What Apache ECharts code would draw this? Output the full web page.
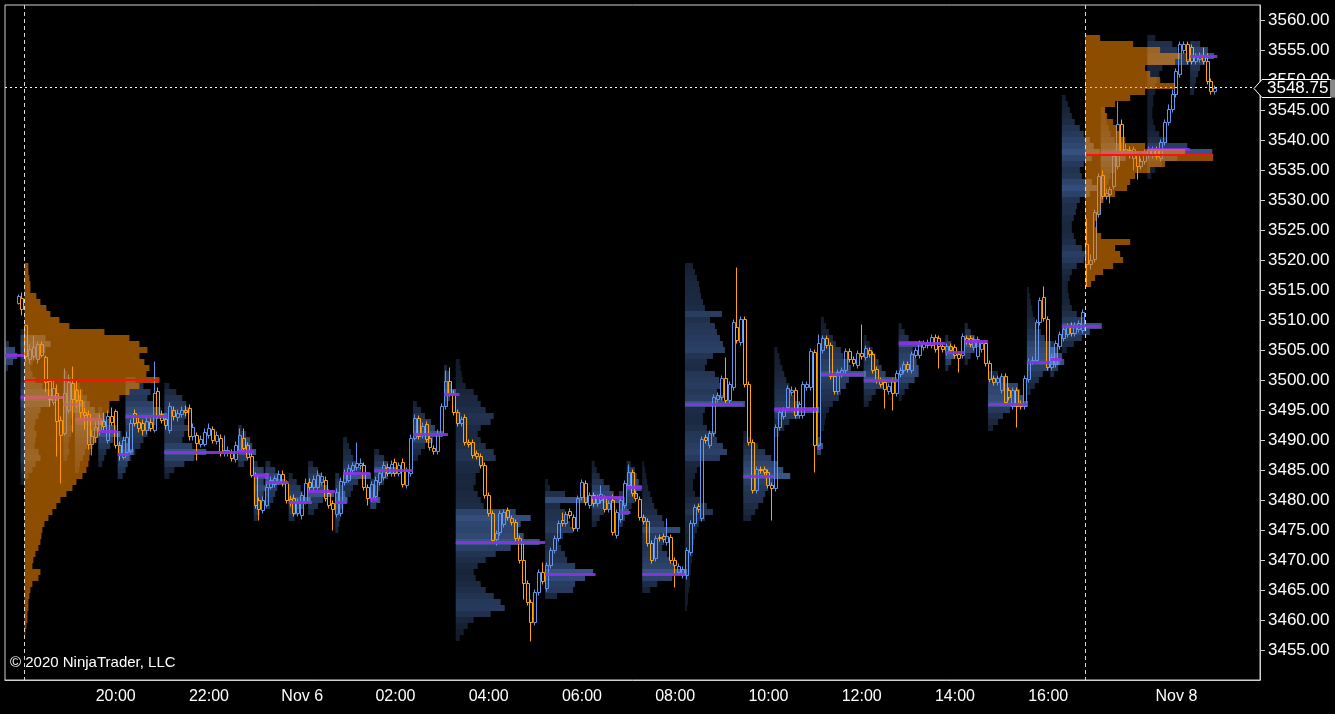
<!DOCTYPE html>
<html><head><meta charset="utf-8">
<script src="https://cdn.jsdelivr.net/npm/echarts@6/dist/echarts.min.js"></script>
<style>html,body{margin:0;padding:0;background:#000;overflow:hidden}#chart{width:1335px;height:714px}</style>
</head><body><div id="chart"></div>
<script>
// ---------- bar time segments (5-minute bars, stamped at bar close) ----------
const barSegments = [
  ['11/05', '16:40', '17:00'],
  ['11/05', '18:05', '23:55'],
  ['11/06', '00:00', '16:15'],
  ['11/06', '16:35', '17:00'],
  ['11/08', '18:05', '21:45']
];
// ---------- x tick labels ----------
const xTickText = {
  '11/05 20:00': '20:00', '11/05 22:00': '22:00', '11/06 00:00': 'Nov 6', '11/06 02:00': '02:00',
  '11/06 04:00': '04:00', '11/06 06:00': '06:00', '11/06 08:00': '08:00', '11/06 10:00': '10:00',
  '11/06 12:00': '12:00', '11/06 14:00': '14:00', '11/06 16:00': '16:00', '11/08 20:00': 'Nov 8'
};
// ---------- OHLC: [open, close, low, high] per bar ----------
const ohlc = [
null,null,null,
[3512.9,3514.0,3512.6,3514.3],[3513.6,3511.9,3510.9,3514.6],
[3509.1,3504.0,3503.1,3509.4],[3503.5,3505.2,3502.8,3506.0],[3504.0,3505.5,3503.3,3507.5],[3503.5,3506.0,3502.9,3506.5],[3506.0,3504.2,3503.8,3506.5],
[3503.9,3499.6,3498.0,3504.2],[3499.8,3496.8,3495.7,3500.1],[3496.3,3498.7,3495.8,3500.0],[3497.9,3493.2,3487.3,3499.3],[3493.4,3490.8,3482.9,3494.0],
[3491.2,3497.9,3490.8,3502.0],[3495.0,3499.6,3494.5,3501.0],[3499.5,3496.9,3491.3,3502.3],[3498.4,3496.6,3495.5,3500.2],[3496.7,3494.6,3493.5,3498.5],
[3494.6,3494.2,3491.9,3495.5],[3494.4,3489.4,3488.5,3495.0],[3489.4,3490.7,3487.5,3491.6],[3490.5,3492.2,3489.6,3493.1],[3491.5,3493.5,3490.8,3494.3],
[3493.2,3492.4,3491.6,3494.6],[3490.0,3494.0,3489.5,3495.0],[3494.0,3493.0,3492.5,3495.5],[3494.8,3489.2,3488.6,3495.2],[3489.2,3487.9,3486.7,3489.8],
[3487.2,3490.0,3486.8,3490.6],[3488.0,3490.5,3487.5,3491.5],[3488.1,3492.9,3487.8,3493.5],[3494.5,3492.9,3492.4,3495.2],[3493.0,3492.0,3491.4,3493.8],
[3492.9,3491.7,3490.8,3493.5],[3491.6,3493.2,3491.0,3494.0],[3493.0,3492.0,3491.5,3493.6],[3491.7,3497.9,3491.3,3503.2],[3498.2,3494.2,3493.6,3498.8],
[3494.3,3493.3,3492.8,3495.0],[3493.5,3492.5,3491.8,3494.2],[3491.7,3495.6,3491.2,3496.3],[3495.0,3494.0,3493.4,3495.6],[3493.8,3494.5,3493.2,3495.2],
[3494.3,3495.0,3493.8,3495.6],[3495.0,3494.7,3494.0,3495.8],[3495.4,3490.6,3490.0,3496.0],[3490.6,3492.2,3490.0,3492.8],[3490.9,3489.5,3486.7,3491.4],
[3489.4,3490.2,3488.8,3490.8],[3489.4,3491.4,3489.0,3492.0],[3490.9,3492.0,3490.4,3492.8],[3491.9,3490.0,3489.5,3492.4],[3489.8,3490.9,3489.3,3491.5],
[3490.4,3487.9,3487.4,3491.0],[3487.9,3488.3,3487.4,3490.9],[3487.9,3488.4,3487.3,3489.0],[3487.9,3487.0,3486.5,3488.5],[3486.9,3489.2,3486.4,3489.8],
[3488.4,3490.9,3488.0,3492.0],[3490.4,3488.7,3488.2,3492.0],[3489.2,3487.2,3486.8,3489.6],[3487.4,3484.2,3483.8,3487.8],[3484.2,3479.1,3478.6,3484.6],
[3480.0,3478.5,3476.7,3480.5],[3478.4,3480.0,3477.8,3480.6],[3479.2,3482.2,3478.8,3482.8],[3482.2,3483.4,3481.8,3484.0],[3482.7,3483.6,3482.2,3484.2],
[3483.0,3484.4,3482.6,3485.0],[3484.4,3482.9,3482.4,3485.0],[3482.9,3480.0,3479.5,3483.4],[3480.2,3479.6,3479.0,3480.8],[3480.4,3477.9,3477.4,3481.0],
[3477.9,3479.8,3477.4,3480.4],[3477.5,3480.8,3476.9,3481.4],[3479.8,3482.9,3479.3,3483.6],[3483.0,3482.2,3481.7,3483.6],[3482.2,3483.5,3481.7,3484.2],
[3482.2,3484.2,3481.8,3485.0],[3483.0,3484.0,3482.5,3484.6],[3483.4,3480.4,3479.8,3484.0],[3481.2,3479.2,3478.6,3481.8],[3479.5,3478.5,3475.0,3480.0],
[3477.7,3481.4,3477.2,3482.0],[3477.9,3483.2,3477.4,3483.8],[3483.0,3484.5,3482.5,3485.2],[3483.4,3485.4,3483.0,3486.0],[3485.0,3485.8,3484.5,3486.4],
[3485.5,3486.2,3485.0,3489.7],[3485.8,3486.2,3485.2,3487.0],[3485.9,3482.2,3481.7,3486.4],[3482.2,3480.4,3479.2,3482.7],[3480.4,3482.7,3479.9,3483.2],
[3480.6,3483.4,3480.1,3484.0],[3483.0,3484.5,3482.5,3485.1],[3483.9,3485.9,3483.4,3486.5],[3485.5,3484.5,3484.0,3486.2],[3484.5,3486.0,3484.0,3486.6],
[3486.4,3484.5,3484.0,3487.0],[3484.5,3485.8,3484.0,3486.4],[3486.4,3482.7,3482.2,3487.0],[3482.5,3484.9,3482.0,3485.5],[3484.5,3490.4,3484.0,3491.0],
[3490.4,3493.7,3490.0,3494.3],[3493.7,3490.6,3490.1,3494.2],[3490.8,3492.4,3490.3,3493.0],[3492.7,3490.1,3489.6,3493.2],[3490.4,3488.9,3488.4,3490.9],
[3488.7,3488.1,3487.6,3489.2],[3488.1,3491.2,3487.6,3491.8],[3491.1,3495.6,3490.6,3496.2],[3495.6,3499.8,3495.1,3501.6],[3499.8,3497.9,3497.4,3502.2],
[3497.9,3494.7,3494.2,3498.4],[3494.7,3492.9,3492.4,3495.2],[3492.9,3493.5,3492.4,3494.0],[3493.9,3489.7,3489.2,3494.4],[3489.7,3489.3,3488.8,3490.2],
[3489.7,3487.5,3487.0,3490.2],[3487.8,3487.4,3486.9,3488.3],[3487.4,3485.9,3485.4,3487.9],[3485.9,3480.9,3480.4,3486.4],[3480.9,3477.9,3477.4,3481.4],
[3477.9,3473.4,3472.9,3478.4],[3473.5,3474.5,3472.5,3475.0],[3474.7,3477.9,3474.2,3478.4],[3476.0,3478.0,3475.5,3478.5],[3478.4,3477.1,3476.6,3478.9],
[3477.0,3476.4,3475.9,3477.5],[3476.4,3473.7,3473.2,3476.9],[3473.7,3470.0,3469.5,3474.2],[3470.0,3466.2,3463.5,3472.9],[3466.2,3463.0,3462.5,3466.7],
[3463.0,3459.7,3456.5,3463.5],[3459.7,3464.7,3459.2,3465.2],[3464.7,3468.0,3464.2,3468.5],[3468.0,3466.5,3466.0,3469.6],[3465.3,3469.2,3464.8,3469.7],
[3469.2,3471.7,3468.7,3472.2],[3471.7,3473.7,3471.2,3474.2],[3473.7,3476.2,3473.2,3476.7],[3476.7,3476.2,3475.7,3478.0],[3476.2,3477.7,3475.7,3478.2],
[3478.2,3477.5,3477.0,3478.7],[3477.2,3475.4,3474.9,3477.7],[3475.4,3480.4,3474.9,3480.9],[3480.5,3483.0,3480.0,3483.5],[3482.9,3479.7,3479.2,3483.4],
[3479.2,3480.8,3478.7,3481.3],[3480.8,3479.5,3479.0,3481.3],[3479.5,3480.5,3479.0,3481.0],[3480.0,3481.0,3479.5,3482.5],[3480.4,3478.5,3478.0,3480.9],
[3478.5,3479.5,3478.0,3480.0],[3480.0,3474.7,3474.2,3481.0],[3474.2,3478.0,3473.7,3478.5],[3476.9,3480.0,3476.4,3480.5],[3479.2,3482.9,3478.7,3483.4],
[3482.5,3484.7,3482.0,3486.0],[3484.7,3481.2,3480.7,3485.2],[3481.2,3480.4,3479.9,3481.7],[3480.2,3477.2,3476.7,3480.7],[3477.2,3476.5,3476.0,3477.7],
[3476.5,3472.9,3472.4,3477.0],[3472.9,3470.0,3469.5,3473.4],[3470.3,3473.7,3469.8,3474.2],[3473.9,3473.6,3473.1,3474.4],[3474.0,3473.5,3473.0,3474.5],
[3473.0,3474.0,3472.5,3477.0],[3473.9,3470.0,3469.5,3474.4],[3470.0,3469.2,3465.5,3470.5],[3468.0,3469.0,3467.5,3469.5],[3467.5,3468.5,3467.0,3469.0],
[3467.5,3471.7,3466.8,3472.2],[3471.4,3476.2,3470.9,3476.7],[3476.2,3478.9,3475.7,3479.4],[3479.0,3478.5,3478.0,3479.5],[3477.0,3490.2,3476.5,3490.7],
[3490.5,3490.0,3489.5,3491.0],[3489.2,3491.2,3488.7,3491.7],[3491.2,3497.2,3490.7,3497.7],[3496.8,3497.5,3496.3,3498.0],[3497.2,3500.4,3496.7,3500.9],
[3500.4,3496.7,3496.2,3503.9],[3496.7,3499.3,3496.2,3499.8],[3498.9,3509.6,3498.4,3510.1],[3508.9,3506.7,3506.2,3518.9],[3506.4,3510.1,3505.9,3510.6],
[3510.1,3499.3,3498.8,3510.6],[3499.4,3489.7,3489.2,3499.9],[3489.7,3481.7,3481.2,3490.2],[3481.7,3485.2,3481.2,3485.7],[3485.2,3485.0,3484.5,3485.7],
[3485.2,3484.7,3484.2,3485.7],[3484.7,3482.5,3482.0,3485.2],[3482.5,3482.0,3476.7,3483.0],[3482.0,3492.2,3481.5,3492.7],[3492.2,3494.6,3491.7,3495.1],
[3494.0,3495.0,3493.5,3495.5],[3495.5,3498.7,3495.0,3499.2],[3498.0,3498.4,3497.5,3499.0],[3498.4,3494.2,3493.7,3498.9],[3494.2,3496.0,3493.7,3496.5],
[3494.2,3499.3,3493.7,3499.8],[3498.9,3499.3,3498.4,3499.8],[3498.9,3504.9,3498.4,3505.4],[3504.6,3489.2,3484.7,3505.1],[3489.2,3506.2,3488.7,3507.6],
[3505.0,3507.0,3504.5,3507.5],[3507.0,3505.9,3505.4,3507.5],[3505.9,3500.6,3500.1,3506.4],[3500.6,3498.1,3497.6,3501.1],[3498.1,3501.4,3497.6,3501.9],
[3501.0,3501.7,3500.5,3502.2],[3501.7,3504.8,3501.2,3505.3],[3504.8,3503.5,3503.0,3505.3],[3503.5,3502.9,3502.4,3504.0],[3502.5,3504.5,3502.0,3505.0],
[3504.5,3504.0,3503.5,3509.3],[3503.9,3505.3,3503.4,3505.8],[3505.0,3504.3,3503.8,3505.5],[3504.3,3501.7,3501.2,3504.8],[3501.9,3500.0,3499.5,3502.4],
[3500.0,3499.4,3498.9,3500.5],[3499.6,3498.5,3495.4,3500.1],[3498.2,3499.0,3497.7,3499.5],[3499.8,3497.9,3495.0,3500.3],[3497.9,3501.2,3497.4,3501.7],
[3501.0,3501.7,3500.5,3502.2],[3501.7,3502.7,3501.2,3503.2],[3502.7,3501.8,3501.3,3503.2],[3501.7,3504.4,3501.2,3504.9],[3504.2,3505.0,3503.7,3505.5],
[3504.2,3506.2,3503.7,3506.7],[3505.5,3506.2,3505.0,3506.7],[3505.9,3506.3,3505.4,3506.8],[3505.9,3507.2,3505.4,3507.7],[3507.2,3505.2,3504.7,3507.7],
[3507.0,3505.7,3502.0,3507.5],[3505.7,3505.2,3504.7,3506.2],[3504.7,3505.7,3504.2,3506.2],[3505.7,3505.0,3504.5,3506.2],[3505.5,3504.2,3503.7,3506.0],
[3504.4,3503.7,3501.4,3504.9],[3504.2,3507.4,3503.7,3507.9],[3507.0,3506.5,3506.0,3507.5],[3507.0,3506.0,3505.5,3507.5],[3505.5,3506.8,3505.0,3507.3],
[3504.0,3506.8,3503.5,3507.3],[3505.2,3506.2,3504.7,3506.7],[3506.2,3502.9,3502.4,3506.7],[3502.9,3500.1,3499.6,3503.4],[3500.3,3499.7,3499.2,3500.8],
[3499.6,3500.4,3499.1,3500.9],[3498.4,3500.7,3497.9,3501.2],[3500.6,3496.4,3495.9,3501.1],[3498.4,3497.2,3496.7,3498.9],[3495.6,3498.4,3495.1,3498.9],
[3498.4,3495.6,3492.2,3498.9],[3496.2,3495.6,3495.1,3496.7],[3495.6,3500.4,3495.1,3500.9],[3500.1,3503.1,3499.6,3503.6],[3503.1,3503.4,3502.6,3504.0],
[3503.4,3509.6,3502.9,3510.1],[3509.6,3513.4,3509.1,3513.9],[3513.8,3510.4,3509.9,3515.6],[3510.1,3502.2,3501.7,3510.6],[3502.2,3503.9,3501.7,3504.4],
[3502.6,3506.2,3502.1,3506.7],[3505.6,3507.6,3505.1,3508.1],[3507.0,3508.5,3506.5,3509.0],[3507.6,3509.0,3507.1,3509.5],[3509.2,3507.8,3507.3,3509.7],
[3507.8,3509.2,3507.3,3509.7],[3508.5,3509.5,3508.0,3510.0],[3508.4,3511.3,3507.9,3511.8],
[3522.6,3519.3,3515.6,3527.0],[3519.3,3520.0,3518.5,3521.0],[3520.1,3528.0,3519.6,3528.5],[3527.6,3534.0,3527.1,3534.5],[3534.1,3530.6,3530.1,3535.0],
[3530.6,3531.2,3530.1,3532.0],[3531.0,3531.8,3529.5,3532.4],[3532.3,3537.3,3531.8,3537.8],[3535.6,3542.6,3535.1,3546.5],[3542.6,3538.0,3537.5,3543.5],
[3538.0,3538.5,3537.5,3539.5],[3538.3,3537.5,3537.0,3539.0],[3537.0,3538.5,3535.0,3539.0],[3537.6,3535.6,3533.5,3538.1],[3535.6,3536.5,3535.1,3537.0],
[3536.5,3538.0,3536.0,3538.5],[3537.5,3538.3,3537.0,3539.0],[3537.5,3538.5,3537.0,3539.0],[3538.5,3537.3,3536.8,3539.0],[3537.0,3539.7,3536.5,3540.2],
[3539.6,3543.0,3539.1,3543.5],[3543.0,3545.1,3542.5,3546.0],[3545.1,3547.6,3544.6,3548.5],[3547.6,3551.5,3547.1,3552.0],[3551.0,3556.0,3550.5,3556.5],
[3555.0,3556.0,3554.5,3556.5],[3556.0,3553.2,3552.7,3556.5],[3555.5,3553.2,3552.7,3556.0],[3553.2,3554.0,3552.7,3554.5],[3553.5,3554.2,3553.0,3554.7],
[3554.2,3553.2,3552.7,3555.5],[3553.2,3549.8,3549.3,3554.5],[3549.8,3548.1,3547.6,3550.3],[3548.1,3548.75,3547.6,3549.2]
];
// ---------- session volume profiles (1-point rows, from top price downward) ----------
const sessFromBar = [5, 278];
const sessTop = [3519, 3557];
const sessPoc = [3500, 3537.5];
const sessVol = [
 [4,4,5,6,6,12,16,22,26,35,45,80,105,115,123,115,120,125,122,135,115,105,95,85,85,80,78,76,74,72,68,66,65,64,62,58,52,48,42,36,32,28,24,20,18,17,16,14,11,9,8,16,14,8,6,5,4,4,3,3,2,1],
 [15,48,75,95,90,60,65,75,90,60,45,30,20,22,28,32,35,40,60,100,128,80,65,50,45,42,30,18,16,15,12,10,12,16,45,30,35,38,28,18,10,6]
];
// ---------- sub-period volume profiles ----------
const subFromBar = [0,4,15,18,24,29,31,41,60,64,67,73,78,85,87,94,95,105,113,116,139,151,158,160,164,175,190,198,209,210,221,230,242,247,253,263,269,272,282,294,305];
const subToBar   = [4,14,18,24,28,31,41,59,63,67,72,78,84,87,93,95,104,113,116,138,151,158,160,163,174,189,197,208,209,220,229,241,246,252,262,268,271,281,293,304,311];
const subPoc = [3504.25,3497.25,3496,3493.5,3491.5,3487.75,3494,3488,3488.25,3484.25,3483,3479.75,3481.5,3479.75,3484.5,3480.25,3485,3491,3497.75,3473,3467.75,3480.5,3478,3482.25,3467.75,3496,3484,3495.25,3488.75,3501,3500,3506.25,3504.75,3506.5,3496,3503,3503.5,3509,3538,3538.5,3554];
const subTop = [3506,3508,3501,3499,3495,3491,3500,3499,3492,3486,3486,3484,3486,3484,3490,3483,3488,3496,3502,3503,3483,3486,3481,3486,3486,3519,3491,3505,3490,3510,3507,3509,3507,3509,3501,3515,3506,3547,3545,3557,3556];
const subVol = [
 [4,10,12,8,3],
 [5,25,30,25,20,12,10,12,15,22,30,38,30,20,18,15,14,16,15,14,18,20,15,12,8,4],
 [4,8,12,15,18,22,15,10,8,10,8,6,5,6,4],
 [5,8,12,15,20,25,30,22,18,15,12,10,8,5,4],
 [4,8,12,18,22,15,12,8,6,4],
 [4,8,12,16,12,10,8,5],
 [10,18,25,22,28,35,42,30,25,22,18,15,10,6],
 [5,12,18,22,26,22,20,25,20,18,28,42,30,20,10,5],
 [4,8,12,14,18,10,6],
 [4,10,15,10,12,10,9,8,6,4],
 [5,10,14,20,12,10,8,5],
 [4,8,12,14,22,15,10,6],
 [5,10,14,15,20,26,15,10,6],
 [4,6,8,10,12,8,6,5,4,3],
 [4,6,8,10,14,18,28,15,10,8,5],
 [4,6,8,10,6],
 [5,10,14,24,14,10,6],
 [4,8,12,18,22,30,20,12,8,5],
 [3,5,6,8,12,6,4],
 [4,5,6,7,10,18,22,25,30,38,35,25,22,25,30,38,40,28,24,20,20,18,22,25,28,60,75,65,62,68,84,55,40,30,22,18,20,25,30,38,45,49,35,18,12,8,4],
 [3,5,20,42,15,20,22,25,28,18,14,16,20,22,30,48,40,30,28,12],
 [3,5,8,12,18,22,28,18,12,8,5],
 [4,6,8,10,6,4],
 [4,8,10,12,15,10,8,5],
 [2,3,4,5,6,8,10,12,15,20,22,38,25,22,20,25,28,32,45,30,15,8],
 [8,10,12,14,15,16,18,20,37,25,30,32,35,38,40,28,22,20,30,34,36,32,38,60,20,18,18,22,30,32,38,42,35,15,12,10,8,8,10,15,22,28,20,14,12,10,9,8,8,7,6,6,5,5,4,3,3,2],
 [4,8,15,22,28,35,40,47,30,25,22,20,15,12,8],
 [3,5,6,8,10,12,15,18,20,25,45,25,15,10,5],
 [3,6,4],
 [3,5,8,12,15,20,22,28,30,45,28,25,20,18,12,8,5,4,3],
 [3,6,9,12,15,18,22,33,20,12,8,5],
 [3,6,10,24,14,16,18,20,20,16,10,6,3],
 [3,6,8,10,6,3],
 [3,6,10,14,10,6,3],
 [10,18,30,32,35,40,22,15,10,5],
 [2,3,4,5,6,8,10,14,18,24,28,30,33,22,16,12,8,4],
 [4,8,12,14,8,4],
 [4,6,8,10,13,18,22,28,32,38,30,22,18,20,30,35,28,18,15,14,12,10,10,12,14,20,25,22,15,10,8,6,6,7,8,10,15,22,40,28,20,12,5],
 [4,5,6,8,10,14,22,30,25,18,14,10,8,6,4,3],
 [8,25,30,40,42,15,12,10,8,8,6,6,5,5,6,8,12,20,40,65,30,15,8,4],
 [10,18,24,15,10,8,6,5,4]
];
const copyrightText = '\u00a9 2020 NinjaTrader, LLC';

// ---------- build ----------
const FONT = '"Liberation Sans", Arial, sans-serif';
const VOL_PX = 1;           // pixels per volume unit
const UP = '#6495ED', DOWN = '#FFA500';
const categories = [];
barSegments.forEach(([d, a, b]) => {
  const toM = s => +s.slice(0, 2) * 60 + +s.slice(3);
  for (let m = toM(a); m <= toM(b); m += 5) {
    const hh = String(Math.floor(m / 60)).padStart(2, '0'), mm = String(m % 60).padStart(2, '0');
    categories.push(d + ' ' + hh + ':' + mm);
  }
});
const candleRows = [];
ohlc.forEach((r, i) => { if (r) candleRows.push([i, r[0], r[1], r[2], r[3]]); });
const lastClose = ohlc[ohlc.length - 1][1];

const blueRows = [];
subVol.forEach((vols, k) => {
  const mx = Math.max(...vols);
  vols.forEach((v, j) => blueRows.push([subFromBar[k], subTop[k] - j, v, mx]));
});
const pocLines = subFromBar.map((s, k) => [s, subToBar[k], subPoc[k]]);
const orangeRows = [];
sessVol.forEach((vols, k) => vols.forEach((v, j) => orangeRows.push([sessFromBar[k], sessTop[k] - j, v])));
const redLines = sessFromBar.map((s, k) => [s, sessPoc[k], Math.max(...sessVol[k])]);
const sessLines = sessFromBar.map((s, k) => [s, sessPoc[k]]);

function clipR(r, cs) {
  return echarts.graphic.clipRectByRect(r, {x: cs.x, y: cs.y, width: cs.width, height: cs.height});
}
function rowRenderer(fillFn) {
  return function (params, api) {
    const s = api.value(0), p = api.value(1), v = api.value(2);
    const bw = api.size([1, 0])[0];
    const x0 = api.coord([s, p])[0] - bw / 2;
    const y0 = api.coord([s, p + 0.5])[1], y1 = api.coord([s, p - 0.5])[1];
    const shape = clipR({x: x0, y: y0, width: v * VOL_PX, height: y1 - y0}, params.coordSys);
    if (!shape) return;
    return {type: 'rect', shape: shape, style: {fill: fillFn(api)}};
  };
}
function candleRender(params, api) {
  const i = api.value(0), o = api.value(1), c = api.value(2), l = api.value(3), h = api.value(4);
  const cx = api.coord([i, o])[0];
  const yo = api.coord([i, o])[1], yc = api.coord([i, c])[1];
  const yl = Math.round(api.coord([i, l])[1]) + 0.5, yh = Math.round(api.coord([i, h])[1]) + 0.5;
  const left = Math.round(cx - 2);
  const col = c >= o ? UP : DOWN;
  const yt = Math.round(Math.min(yo, yc)) + 0.5, yb = Math.round(Math.max(yo, yc)) + 0.5;
  const wx = left + 1.5;
  const st = {stroke: col, lineWidth: 1, fill: null};
  const kids = [
    {type: 'line', shape: {x1: wx, y1: yh, x2: wx, y2: yt}, style: st},
    {type: 'line', shape: {x1: wx, y1: yb, x2: wx, y2: yl}, style: st}
  ];
  if (yb - yt >= 1) kids.push({type: 'rect', shape: {x: left + 0.5, y: yt, width: 3, height: yb - yt}, style: st});
  else kids.push({type: 'line', shape: {x1: left, y1: yt, x2: left + 4, y2: yt}, style: st});
  return {type: 'group', children: kids};
}

const chart = echarts.init(document.getElementById('chart'), null, {renderer: 'canvas'});
chart.setOption({
  backgroundColor: '#000',
  animation: false,
  grid: {left: 5, right: 75, top: 5, bottom: 34, show: true, borderColor: '#d0d0d0', borderWidth: 1, backgroundColor: '#000'},
  xAxis: {
    type: 'category', data: categories, boundaryGap: true,
    axisLine: {lineStyle: {color: '#d0d0d0'}},
    axisTick: {alignWithLabel: true, length: 5, interval: (i, v) => v in xTickText, lineStyle: {color: '#d0d0d0'}},
    axisLabel: {interval: (i, v) => v in xTickText, formatter: v => xTickText[v] || '', color: '#fff', fontSize: 16, fontFamily: FONT, margin: 9},
    splitLine: {show: false}
  },
  yAxis: {
    type: 'value', position: 'right', min: 3450, max: 3562.5, interval: 5,
    axisLine: {show: true, lineStyle: {color: '#d0d0d0'}},
    axisTick: {show: true, length: 5, lineStyle: {color: '#d0d0d0'}},
    axisLabel: {formatter: v => v.toFixed(2), color: '#fff', fontSize: 17, fontFamily: FONT, margin: 8, showMinLabel: false, showMaxLabel: false},
    splitLine: {show: false}
  },
  series: [
    {
      type: 'custom', z: 2, data: blueRows, encode: {x: 0, y: 1},
      renderItem: rowRenderer(api => 'rgba(100,149,237,' + (0.16 + 0.4 * api.value(2) / api.value(3)).toFixed(3) + ')')
    },
    {
      type: 'custom', z: 3, data: candleRows, encode: {x: 0, y: [1, 2, 3, 4]}, clip: true,
      renderItem: candleRender
    },
    {
      type: 'custom', z: 4, data: pocLines, encode: {x: [0, 1], y: 2},
      renderItem: function (params, api) {
        const bw = api.size([1, 0])[0];
        const p = api.value(2);
        const xa = api.coord([api.value(0), p])[0] - bw / 2;
        const xb = api.coord([api.value(1), p])[0] + bw / 2;
        const y = Math.round(api.coord([api.value(0), p])[1]) + 0.5;
        return {type: 'line', shape: {x1: Math.max(xa, params.coordSys.x), y1: y, x2: xb, y2: y},
                style: {stroke: 'rgba(138,50,228,0.92)', lineWidth: 3}};
      }
    },
    {
      type: 'custom', z: 5, data: orangeRows, encode: {x: 0, y: 1},
      renderItem: rowRenderer(() => 'rgba(255,140,0,0.55)')
    },
    {
      type: 'custom', z: 6, data: redLines, encode: {x: 0, y: 1},
      renderItem: function (params, api) {
        const bw = api.size([1, 0])[0];
        const c = api.coord([api.value(0), api.value(1)]);
        const x0 = c[0] - bw / 2;
        return {type: 'line', shape: {x1: x0, y1: c[1], x2: x0 + api.value(2) * VOL_PX, y2: c[1]},
                style: {stroke: '#ff1010', lineWidth: 2}};
      }
    },
    {
      type: 'custom', z: 7, data: sessLines, encode: {x: 0, y: 1},
      renderItem: function (params, api) {
        const bw = api.size([1, 0])[0];
        const x = Math.round(api.coord([api.value(0), api.value(1)])[0] - bw / 2) + 0.5;
        const cs = params.coordSys;
        return {type: 'line', shape: {x1: x, y1: cs.y, x2: x, y2: cs.y + cs.height},
                style: {stroke: '#d8d8d8', lineWidth: 1, lineDash: [4, 3]}};
      },
      markLine: {
        silent: true, symbol: ['none', 'none'], animation: false,
        data: [{yAxis: lastClose}],
        lineStyle: {color: '#fff', type: [2, 3], width: 1},
        label: {show: false}
      }
    }
  ]
});
// last-price marker and copyright (positioned from the axis scale)
const yPx = Math.round(chart.convertToPixel({yAxisIndex: 0}, lastClose)) + 0.5;
const axisX = 1335 - 75;
chart.setOption({
  graphic: [
    {type: 'text', left: 10, top: 655, z: 100, style: {text: copyrightText, fill: '#fff', font: '15px ' + FONT}},
    {type: 'polygon', z: 100, shape: {points: [[axisX - 6, yPx], [axisX + 2, yPx - 9], [axisX + 71, yPx - 9], [axisX + 71, yPx + 9], [axisX + 2, yPx + 9]]},
     style: {fill: '#000', stroke: '#fff', lineWidth: 1}},
    {type: 'rect', z: 101, shape: {x: axisX + 71, y: yPx - 9, width: 4, height: 18}, style: {fill: '#888'}},
    {type: 'text', z: 102, x: axisX + 7, y: yPx, style: {text: lastClose.toFixed(2), fill: '#fff', font: '17px ' + FONT, verticalAlign: 'middle'}}
  ]
});
</script></body></html>
